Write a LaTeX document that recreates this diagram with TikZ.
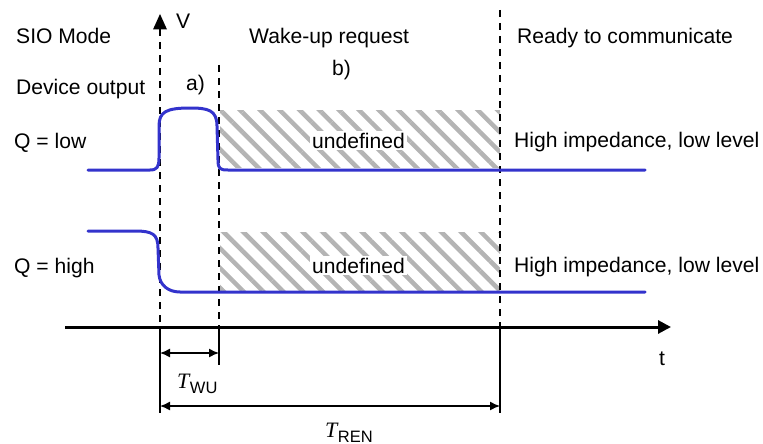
\documentclass[tikz,border=0pt]{standalone}
\usepackage{fontspec}
\setmainfont{Liberation Sans}
\newfontfamily\tserif{Liberation Serif}
\usetikzlibrary{arrows.meta,patterns.meta}
\definecolor{sigblue}{RGB}{51,51,204}
\definecolor{hatchgray}{RGB}{180,180,180}
\begin{document}
\begin{tikzpicture}[x=1pt,y=-1pt,
  txt/.style={font=\fontsize{21.1}{24}\selectfont, inner sep=0pt, anchor=base west},
  sig/.style={line width=3pt, draw=sigblue, line cap=round, line join=round},
  vdash/.style={line width=1.6pt, dash pattern=on 7pt off 6pt},
  vsolid/.style={line width=1.4pt},
  hatch/.style={pattern={Lines[angle=-45,distance=14pt,line width=4.5pt]}, pattern color=hatchgray},
  dim/.style={line width=1.4pt, {Latex[length=10pt,width=9pt]}-{Latex[length=10pt,width=9pt]}},
  undef/.style={font=\fontsize{21.1}{24}\selectfont, fill=white, inner sep=2pt, anchor=base},
  tlabel/.style={inner sep=0pt, anchor=base west},
 ]
\useasboundingbox (0,0) rectangle (763,444);

% hatched undefined areas
\path[hatch] (220,110) rectangle (500,167);
\path[hatch] (220,232) rectangle (500,290);
\node[undef] (und1) at (358.5,148) {undefined};
\node[undef] (und2) at (358.5,273) {undefined};

% coordinates of the time marks
\coordinate (m1top) at (160,29);
\coordinate (m1ax) at (160,327);
\coordinate (m1bot) at (160,413);
\coordinate (m2top) at (219,65);
\coordinate (m2ax) at (219,327);
\coordinate (m2bot) at (219,365);
\coordinate (m3top) at (500,10);
\coordinate (m3ax) at (500,327);
\coordinate (m3bot) at (500,413);

% dashed marks
\draw[vdash] (m1top) -- (m1ax);
\draw[vdash] (m2top) -- (m2ax);
\draw[vdash] (m3top) -- (m3ax);
\draw[vsolid] (m1ax) -- (m1bot);
\draw[vsolid] (m2ax) -- (m2bot);
\draw[vsolid] (m3ax) -- (m3bot);

% V arrow head
\fill (160,14) -- (167,29.5) -- (153,29.5) -- cycle;

% time axis
\coordinate (ax0) at (65,327);
\coordinate (ax1) at (671,327);
\draw[line width=3pt, -{Triangle[length=13pt,width=13pt]}] (ax0) -- (ax1);

% dimension arrows
\coordinate (wu0) at (160,353);
\coordinate (wu1) at (219,353);
\coordinate (ren0) at (160,406);
\coordinate (ren1) at (500,406);
\draw[dim] (wu0) -- (wu1);
\draw[dim] (ren0) -- (ren1);

% signals
\draw[sig] (88,170) -- (150,170) .. controls (157,170) and (159,167) .. (159,158)
  -- (159,126) .. controls (159,112) and (166,108) .. (190,108)
  .. controls (208,108) and (217,110) .. (217,126)
  -- (218,160) .. controls (218,169) and (220,170) .. (228,170) -- (645,170);
\draw[sig] (88,231) -- (135,231) .. controls (152,231) and (158,234) .. (158,248)
  -- (159,275) .. controls (160,285) and (168,292) .. (180,292) -- (645,292);

% texts
\node[txt] (sio) at (16,44) {SIO Mode};
\node[txt] (dev) at (16,95) {Device output};
\node[txt] (qlow) at (14,148) {Q = low};
\node[txt] (qhigh) at (14,273) {Q = high};
\node[txt] (wake) at (249,44) {Wake-up request};
\node[txt] (ready) at (517,44) {Ready to communicate};
\node[txt] (a) at (186,90) {a)};
\node[txt] (b) at (332,76) {b)};
\node[txt] (v) at (176,29) {V};
\node[txt] (hi1) at (514,147) {High impedance, low level};
\node[txt] (hi2) at (514,272) {High impedance, low level};
\node[txt, anchor=base] (t) at (662,365) {t};
\node[tlabel] (twu) at (177,388) {\fontsize{22}{24}\selectfont\tserif\itshape T\kern0.5pt\raisebox{-5pt}{\fontsize{16.5}{18}\selectfont\rmfamily\upshape WU}};
\node[tlabel] (tren) at (325,437) {\fontsize{22}{24}\selectfont\tserif\itshape T\kern0.5pt\raisebox{-5pt}{\fontsize{16.5}{18}\selectfont\rmfamily\upshape REN}};
\end{tikzpicture}
\end{document}
